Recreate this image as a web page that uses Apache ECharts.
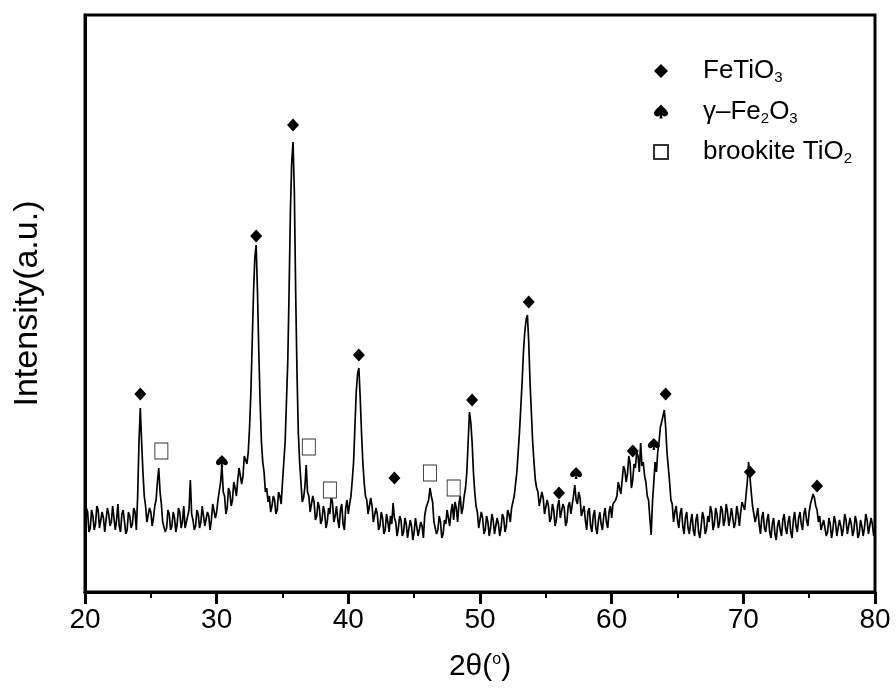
<!DOCTYPE html>
<html>
<head>
<meta charset="utf-8">
<script src="https://cdn.jsdelivr.net/npm/echarts@6/dist/echarts.min.js"></script>
<style>
  html, body { margin: 0; padding: 0; background: #fff; }
  #main { width: 896px; height: 695px; }
</style>
</head>
<body>
<div id="main"></div>
<script>
// scan: 20.0 to 80.0 deg, step 0.1 deg (one row = 2 deg)
var scanStart = 20
var scanStep = 0.1
var intensity = [
  70, 84, 80, 60, 64, 82, 76, 62, 68, 86, 82, 64, 66, 80, 74, 60, 62, 84, 78, 66,
  70, 86, 84, 62, 72, 88, 66, 60, 78, 82, 70, 58, 62, 80, 76, 64, 68, 84, 80, 62,
  96, 150, 184, 150, 120, 96, 86, 70, 70, 84, 80, 66, 74, 86, 92, 110, 124, 100, 88, 70,
  72, 60, 64, 82, 78, 62, 66, 80, 74, 60, 68, 84, 80, 64, 70, 86, 64, 62, 76, 82,
  112, 78, 72, 62, 66, 82, 78, 64, 70, 86, 84, 66, 68, 80, 76, 62, 72, 88, 86, 74,
  80, 92, 90, 110, 127, 100, 96, 78, 84, 104, 100, 86, 92, 110, 104, 96, 112, 124, 122, 108,
  116, 136, 132, 128, 140, 165, 200, 250, 300, 335, 347, 300, 240, 190, 150, 130, 120, 100, 104, 90,
  96, 80, 86, 96, 92, 78, 82, 100, 96, 88, 110, 130, 150, 190, 230, 300, 380, 430, 450, 400,
  300, 220, 160, 130, 110, 90, 94, 105, 127, 100, 96, 80, 82, 96, 90, 72, 76, 90, 84, 68,
  72, 86, 80, 64, 70, 84, 78, 96, 89, 70, 76, 86, 72, 64, 82, 88, 68, 62, 84, 92,
  78, 88, 96, 112, 130, 165, 200, 218, 224, 195, 160, 130, 110, 96, 92, 78, 80, 94, 86, 70,
  72, 84, 78, 62, 66, 80, 74, 58, 62, 78, 70, 60, 76, 68, 89, 74, 70, 56, 64, 76,
  72, 56, 60, 74, 68, 54, 56, 72, 66, 52, 60, 74, 72, 56, 58, 70, 66, 54, 76, 84,
  84, 92, 104, 96, 90, 70, 72, 58, 62, 76, 70, 54, 58, 72, 68, 82, 74, 66, 80, 88,
  72, 90, 84, 70, 88, 96, 78, 84, 96, 104, 120, 150, 180, 170, 150, 120, 100, 86, 80, 64,
  66, 80, 74, 58, 62, 76, 70, 56, 64, 78, 72, 58, 60, 74, 68, 56, 64, 78, 74, 60,
  66, 82, 78, 70, 84, 90, 96, 108, 120, 140, 160, 185, 210, 240, 260, 272, 277, 250, 210, 180,
  150, 130, 112, 104, 100, 86, 88, 100, 94, 78, 80, 92, 86, 70, 74, 88, 82, 66, 72, 86,
  92, 74, 76, 88, 84, 66, 70, 86, 90, 78, 80, 96, 107, 92, 88, 100, 94, 76, 78, 86,
  72, 62, 80, 84, 66, 60, 76, 82, 64, 58, 72, 80, 68, 62, 76, 84, 70, 64, 80, 86,
  74, 88, 86, 92, 96, 110, 104, 98, 112, 126, 122, 110, 118, 136, 129, 104, 112, 128, 124, 140,
  136, 120, 149, 126, 130, 116, 110, 96, 92, 74, 57, 90, 110, 130, 120, 140, 150, 165, 170, 176,
  182, 165, 140, 125, 110, 92, 88, 70, 80, 86, 72, 64, 78, 84, 66, 58, 74, 80, 64, 58,
  70, 78, 62, 56, 72, 78, 60, 54, 66, 80, 74, 58, 62, 76, 70, 86, 80, 62, 68, 84,
  78, 64, 70, 86, 82, 66, 72, 88, 80, 66, 74, 84, 82, 64, 70, 86, 78, 66, 80, 90,
  88, 82, 96, 110, 130, 115, 100, 86, 84, 70, 76, 84, 68, 58, 74, 80, 64, 60, 72, 78,
  60, 54, 68, 74, 58, 52, 66, 72, 62, 56, 72, 78, 64, 58, 70, 76, 60, 54, 72, 80,
  66, 60, 74, 80, 68, 62, 78, 84, 72, 66, 80, 88, 86, 98, 94, 86, 82, 70, 76, 62,
  64, 72, 70, 56, 60, 74, 68, 54, 62, 76, 70, 56, 58, 72, 66, 56, 64, 78, 72, 58,
  60, 74, 68, 56, 62, 76, 70, 54, 58, 72, 66, 56, 64, 78, 72, 58, 60, 74, 68, 56,
  62
]

// phase markers [2theta, height]
var feTiO3Marks = [
  [24.2, 198], [33.0, 356], [35.8, 467], [40.8, 237], [43.5, 114], [49.4, 192],
  [53.7, 290], [56.0, 99], [61.6, 141], [64.1, 198], [70.5, 120], [75.6, 106]
]
var fe2O3Marks = [[30.4, 131], [57.3, 119], [63.2, 148]]
var brookiteMarks = [[25.8, 141], [37.0, 145], [38.6, 102], [46.2, 119], [48.0, 104]]

var xTicks = [20, 30, 40, 50, 60, 70, 80]

var pattern = []
for (var i = 0; i < intensity.length; i++) {
  pattern.push([+(scanStart + i * scanStep).toFixed(1), intensity[i]])
}

var spade = 'path://M50,0 C40,15 0,40 0,65 C0,85 25,92 44,76 L38,100 L62,100 L56,76 C75,92 100,85 100,65 C100,40 60,15 50,0 Z'

var chart = echarts.init(document.getElementById('main'))
var option = {
  animation: false,
  textStyle: { fontFamily: 'Liberation Sans, Arial, sans-serif', color: '#000' },
  grid: {
    left: 85, right: 21, top: 15, bottom: 103,
    show: true, borderColor: '#000', borderWidth: 3
  },
  legend: {
    orient: 'vertical',
    left: 648,
    top: 53,
    itemGap: 13,
    itemWidth: 14,
    itemHeight: 14,
    textStyle: {
      fontSize: 26,
      color: '#000',
      padding: [0, 0, 0, 30],
      rich: {
        sub: { fontSize: 15, color: '#000', padding: [14, 0, 0, 0] }
      }
    },
    data: ['FeTiO3', 'γ–Fe2O3', 'brookite TiO2'],
    formatter: function (name) {
      if (name === 'FeTiO3') return 'FeTiO{sub|3}'
      if (name === 'γ–Fe2O3') return 'γ–Fe{sub|2}O{sub|3}'
      return 'brookite TiO{sub|2}'
    }
  },
  xAxis: {
    type: 'value',
    min: 20, max: 80, interval: 10,
    name: '2θ({sup|o})',
    nameLocation: 'middle',
    nameGap: 60,
    nameTextStyle: {
      fontSize: 30, color: '#000',
      rich: { sup: { fontSize: 16, color: '#000', padding: [0, 0, 14, 0] } }
    },
    axisLine: { lineStyle: { color: '#000', width: 3 } },
    axisTick: { show: true, inside: false, length: 12, lineStyle: { color: '#000', width: 3 } },
    minorTick: { show: true, splitNumber: 2, length: 6, lineStyle: { color: '#000', width: 2 } },
    axisLabel: {
      fontSize: 28, margin: 14, color: '#000',
      formatter: function (v) { return xTicks.indexOf(v) >= 0 ? String(v) : '' }
    },
    splitLine: { show: false }
  },
  yAxis: {
    type: 'value',
    min: 0, max: 577,
    name: 'Intensity(a.u.)',
    nameLocation: 'middle',
    nameGap: 40,
    nameTextStyle: { fontSize: 34, color: '#000' },
    axisLine: { lineStyle: { color: '#000', width: 3 } },
    axisTick: { show: false },
    axisLabel: { show: false },
    splitLine: { show: false }
  },
  series: [
    {
      name: 'pattern',
      type: 'line',
      data: pattern,
      showSymbol: false,
      lineStyle: { color: '#000', width: 1.7 },
      z: 2
    },
    {
      name: 'FeTiO3',
      type: 'scatter',
      data: feTiO3Marks,
      symbol: 'diamond',
      symbolSize: [12, 13],
      itemStyle: { color: '#000', opacity: 1 },
      z: 3
    },
    {
      name: 'γ–Fe2O3',
      type: 'scatter',
      data: fe2O3Marks,
      symbol: spade,
      symbolSize: [12, 12],
      itemStyle: { color: '#000', opacity: 1 },
      z: 3
    },
    {
      name: 'brookite TiO2',
      type: 'scatter',
      data: brookiteMarks,
      symbol: 'rect',
      symbolSize: [13, 16],
      itemStyle: { color: '#fff', borderColor: '#333', borderWidth: 1, opacity: 1 },
      z: 3
    }
  ]
}
chart.setOption(option)
</script>
</body>
</html>
